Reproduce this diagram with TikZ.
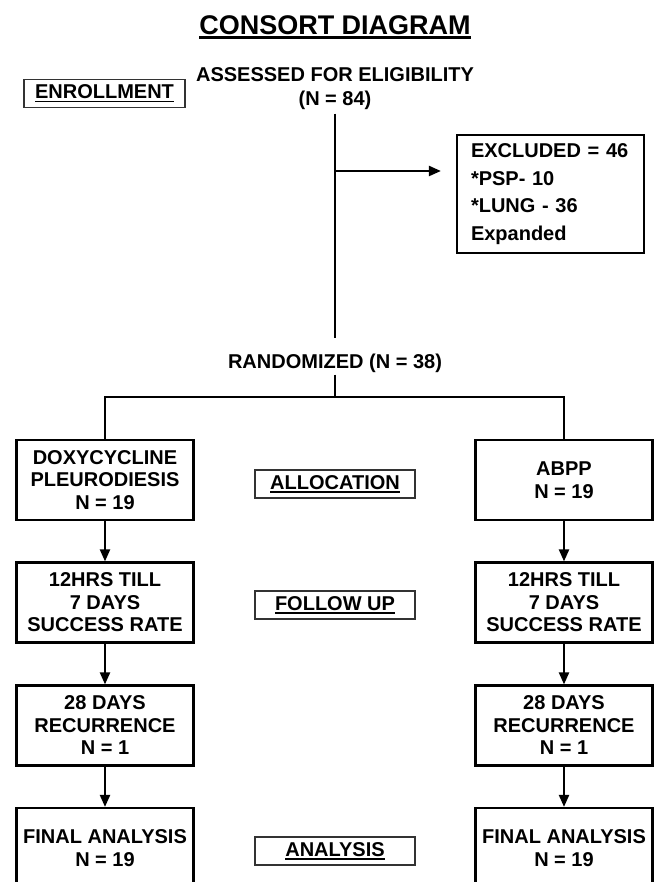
\documentclass[tikz,border=0pt]{standalone}
\usepackage{fontspec}
\setmainfont{Liberation Sans}
\usetikzlibrary{positioning,arrows.meta}
\tikzset{
  cdbox/.style={draw=black, line width=2.2pt, minimum width=177pt, minimum height=80pt,
                inner sep=2pt, align=center, font=\cdfont},
  cdtag/.style={draw=black!80, line width=1.3pt, minimum width=160pt, minimum height=28pt,
                inner sep=2pt, font=\cdfont},
  cdtext/.style={align=center, font=\cdfont},
  cdline/.style={line width=2.2pt},
  cdarrow/.style={line width=2.2pt, -{Triangle[length=12pt,width=10pt]}},
}
\newcommand{\cdfont}{\fontsize{20}{22.5}\selectfont\bfseries}
\newcommand{\cdtitlefont}{\fontsize{27}{30}\selectfont\bfseries}
\newcommand{\cdul}[2][1.4pt]{\vtop{\hbox{#2}\kern2pt\hrule height #1}}

\begin{document}
\begin{tikzpicture}[x=1pt,y=-1pt]
  \useasboundingbox (0,0) rectangle (654,882);
  \clip (0,0) rectangle (654,882);
  % heading and enrollment
  \node[font=\cdtitlefont] (title) at (335,27) {\cdul[2.5pt]{CONSORT DIAGRAM}};
  \node[cdtext, font=\fontsize{20}{24}\selectfont\bfseries] (assess) at (335,89)
    {ASSESSED FOR ELIGIBILITY\\(N = 84)};
  \node[cdtag, minimum width=161pt] (enrol) at (104.5,93.5) {\cdul{ENROLLMENT}};
  \node[cdbox, align=left, text width=159pt, inner xsep=14pt, minimum width=0pt,
        minimum height=118pt, font=\fontsize{20}{27.7}\selectfont\bfseries] (excl) at (550.5,194)
    {EXCLUDED = 46\\{*}PSP- 10\\{*}LUNG - 36\\Expanded};
  \node[cdtext, inner ysep=2pt] (rand) at (335,363) {RANDOMIZED (N = 38)};
  \coordinate (split) at (335,171);
  \coordinate (fork) at (335,397);
  % allocation
  \node[cdbox] (doxy) at (105,480) {DOXYCYCLINE\\PLEURODIESIS\\N = 19};
  \node[cdbox] (abpp) at (564,480) {ABPP\\N = 19};
  \node[cdtag] (alloc) at (335,484) {\cdul{ALLOCATION}};
  % follow up
  \node[cdbox] (fuA) at (105,602.5) {12HRS TILL\\7 DAYS\\SUCCESS RATE};
  \node[cdbox] (fuB) at (564,602.5) {12HRS TILL\\7 DAYS\\SUCCESS RATE};
  \node[cdtag] (follow) at (335,605) {\cdul{FOLLOW UP}};
  \node[cdbox] (recA) at (105,725.5) {28 DAYS\\RECURRENCE\\N = 1};
  \node[cdbox] (recB) at (564,725.5) {28 DAYS\\RECURRENCE\\N = 1};
  % analysis
  \node[cdbox] (finA) at (105,848) {FINAL ANALYSIS\\N = 19};
  \node[cdbox] (finB) at (564,848) {FINAL ANALYSIS\\N = 19};
  \node[cdtag] (anal) at (335,851) {\cdul{ANALYSIS}};
  % connectors
  \draw[cdline, shorten >=13pt] (assess.south) -- (rand.north);
  \draw[cdarrow, shorten >=15pt] (split) -- (split -| excl.west);
  \draw[cdline] (rand.south) -- (fork);
  \draw[cdline] (doxy.north) |- (fork) -| (abpp.north);
  \draw[cdarrow] (doxy) -- (fuA);
  \draw[cdarrow] (fuA) -- (recA);
  \draw[cdarrow] (recA) -- (finA);
  \draw[cdarrow] (abpp) -- (fuB);
  \draw[cdarrow] (fuB) -- (recB);
  \draw[cdarrow] (recB) -- (finB);
\end{tikzpicture}
\end{document}
